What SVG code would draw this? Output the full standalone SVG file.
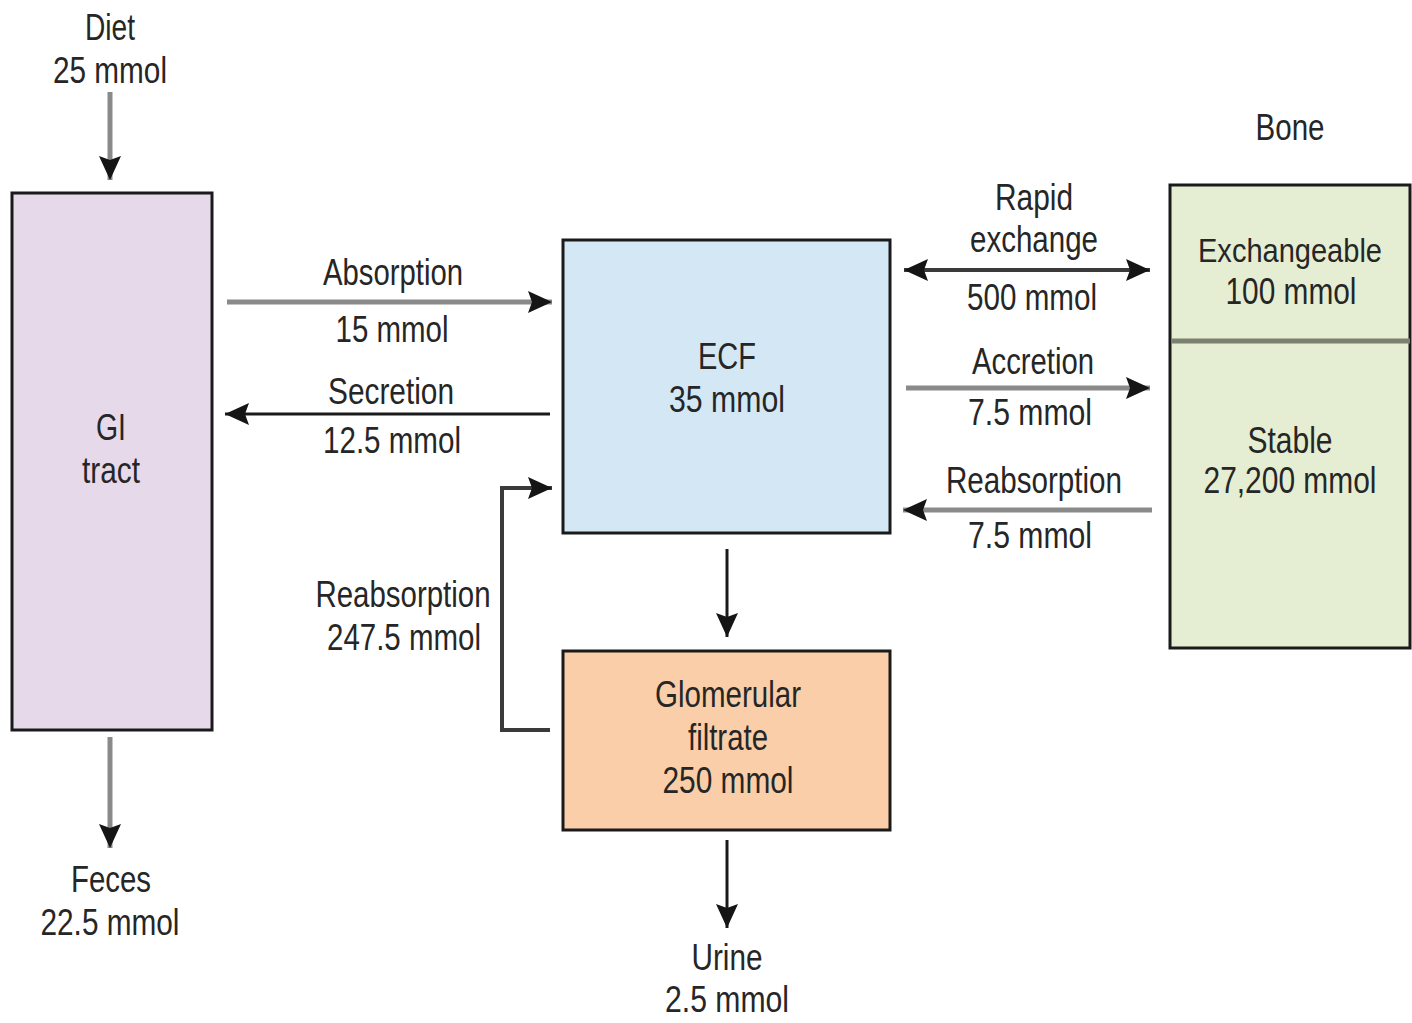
<svg xmlns="http://www.w3.org/2000/svg" width="1412" height="1023" viewBox="0 0 1412 1023">
<style>
.t{font-family:"Liberation Sans",Arial,sans-serif;font-size:36px;fill:#262626;text-anchor:middle}
.box{stroke:#1a1a1a;stroke-width:3}
.g{stroke:#8a8a8a;stroke-width:5;fill:none}
.k{stroke:#1a1a1a;stroke-width:3;fill:none}
.d{stroke:#3a3a3a;stroke-width:4;fill:none}
</style>
<defs>
<marker id="ah" markerUnits="userSpaceOnUse" markerWidth="26" markerHeight="22" refX="24" refY="11" orient="auto-start-reverse" viewBox="0 0 26 22">
<path d="M0,0 L24,11 L0,22 L4,11 z" fill="#151515"/>
</marker>
</defs>
<rect width="1412" height="1023" fill="#fff"/>
<g id="labels-free">
<text class="t" x="110" y="40" textLength="50" lengthAdjust="spacingAndGlyphs">Diet</text>
<text class="t" x="110" y="83" textLength="114" lengthAdjust="spacingAndGlyphs">25 mmol</text>
<text class="t" x="111" y="892" textLength="80" lengthAdjust="spacingAndGlyphs">Feces</text>
<text class="t" x="110" y="935" textLength="139" lengthAdjust="spacingAndGlyphs">22.5 mmol</text>
<text class="t" x="727" y="970" textLength="71" lengthAdjust="spacingAndGlyphs">Urine</text>
<text class="t" x="727" y="1012" textLength="124" lengthAdjust="spacingAndGlyphs">2.5 mmol</text>
<text class="t" x="1290" y="140" textLength="69" lengthAdjust="spacingAndGlyphs">Bone</text>
</g>
<g id="gi-tract">
<rect class="box" x="12" y="193" width="200" height="537" fill="#e6d9ea"/>
<text class="t" x="111" y="440" textLength="30" lengthAdjust="spacingAndGlyphs">GI</text>
<text class="t" x="111" y="483" textLength="58" lengthAdjust="spacingAndGlyphs">tract</text>
</g>
<g id="ecf">
<rect class="box" x="563" y="240" width="327" height="293" fill="#d3e8f4"/>
<text class="t" x="727" y="369" textLength="58" lengthAdjust="spacingAndGlyphs">ECF</text>
<text class="t" x="727" y="412" textLength="116" lengthAdjust="spacingAndGlyphs">35 mmol</text>
</g>
<g id="glomerular-filtrate">
<rect class="box" x="563" y="651" width="327" height="179" fill="#f9cea8"/>
<text class="t" x="728" y="707" textLength="146" lengthAdjust="spacingAndGlyphs">Glomerular</text>
<text class="t" x="728" y="750" textLength="80" lengthAdjust="spacingAndGlyphs">filtrate</text>
<text class="t" x="728" y="793" textLength="131" lengthAdjust="spacingAndGlyphs">250 mmol</text>
</g>
<g id="bone">
<rect class="box" x="1170" y="185" width="240" height="463" fill="#e5eed2"/>
<line x1="1171" y1="341" x2="1410" y2="341" stroke="#7b8070" stroke-width="5"/>
<text class="t" x="1290" y="262" style="font-size:33px" textLength="184" lengthAdjust="spacingAndGlyphs">Exchangeable</text>
<text class="t" x="1291" y="304" textLength="131" lengthAdjust="spacingAndGlyphs">100 mmol</text>
<text class="t" x="1290" y="453" textLength="85" lengthAdjust="spacingAndGlyphs">Stable</text>
<text class="t" x="1290" y="493" textLength="173" lengthAdjust="spacingAndGlyphs">27,200 mmol</text>
</g>
<g id="connectors">
<line class="g" x1="110" y1="92" x2="110" y2="180" marker-end="url(#ah)"/>
<line class="g" x1="110" y1="737" x2="110" y2="848" marker-end="url(#ah)"/>
<line class="g" x1="227" y1="302" x2="552" y2="302" marker-end="url(#ah)"/>
<line class="k" x1="550" y1="414" x2="225" y2="414" marker-end="url(#ah)"/>
<line class="d" x1="904" y1="270" x2="1150" y2="270" marker-start="url(#ah)" marker-end="url(#ah)"/>
<line class="g" x1="906" y1="388" x2="1150" y2="388" marker-end="url(#ah)"/>
<line class="g" x1="1152" y1="510" x2="903" y2="510" marker-end="url(#ah)"/>
<polyline class="d" points="550,730 502,730 502,488 552,488" marker-end="url(#ah)"/>
<line class="k" x1="727" y1="549" x2="727" y2="637" marker-end="url(#ah)"/>
<line class="k" x1="727" y1="840" x2="727" y2="928" marker-end="url(#ah)"/>
<text class="t" x="393" y="285" textLength="140" lengthAdjust="spacingAndGlyphs">Absorption</text>
<text class="t" x="392" y="342" textLength="113" lengthAdjust="spacingAndGlyphs">15 mmol</text>
<text class="t" x="391" y="404" textLength="126" lengthAdjust="spacingAndGlyphs">Secretion</text>
<text class="t" x="392" y="453" textLength="138" lengthAdjust="spacingAndGlyphs">12.5 mmol</text>
<text class="t" x="1034" y="210" textLength="78" lengthAdjust="spacingAndGlyphs">Rapid</text>
<text class="t" x="1034" y="252" textLength="128" lengthAdjust="spacingAndGlyphs">exchange</text>
<text class="t" x="1032" y="310" textLength="130" lengthAdjust="spacingAndGlyphs">500 mmol</text>
<text class="t" x="1033" y="374" textLength="122" lengthAdjust="spacingAndGlyphs">Accretion</text>
<text class="t" x="1030" y="425" textLength="124" lengthAdjust="spacingAndGlyphs">7.5 mmol</text>
<text class="t" x="1034" y="493" textLength="176" lengthAdjust="spacingAndGlyphs">Reabsorption</text>
<text class="t" x="1030" y="548" textLength="124" lengthAdjust="spacingAndGlyphs">7.5 mmol</text>
<text class="t" x="403" y="607" textLength="175" lengthAdjust="spacingAndGlyphs">Reabsorption</text>
<text class="t" x="404" y="650" textLength="154" lengthAdjust="spacingAndGlyphs">247.5 mmol</text>
</g>
</svg>
